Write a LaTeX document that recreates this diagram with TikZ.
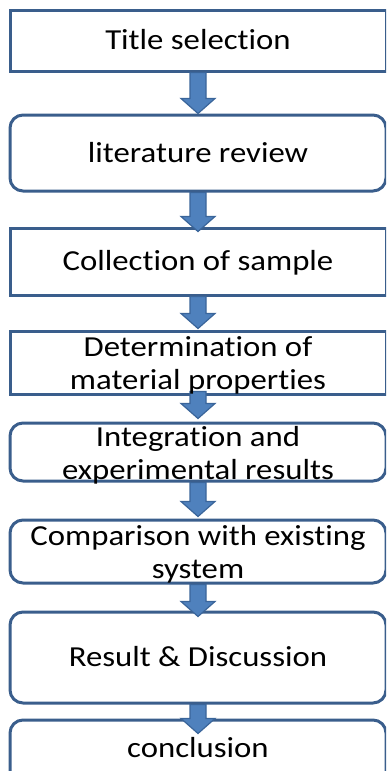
\documentclass[tikz,border=0pt]{standalone}
\usepackage{fontspec}
\setmainfont[FakeStretch=1.13,Ligatures={NoCommon}]{Carlito}
\usetikzlibrary{calc}
\definecolor{boxline}{HTML}{3A5E8C}
\definecolor{arrowfill}{HTML}{4F81BD}
\definecolor{arrowline}{HTML}{3A659A}
\begin{document}
\begin{tikzpicture}[x=1pt,y=-1pt,
        base/.style={draw=boxline,line width=3pt,minimum width=376pt,inner sep=0pt},
        plain/.style={base},
        soft/.style={base,rounded corners=13pt},
        steptext/.style={inner sep=0pt,align=center,font=\fontsize{29}{33}\selectfont},
        oneline/.style={steptext,text height=18.3pt,text depth=0pt},
        twoline/.style={steptext,yshift=-3pt},
        reach/.store in=\flowreach, reach=0,
        lift/.store in=\flowlift, lift=0,
        flow/.style={draw=arrowline,fill=arrowfill,line width=1.2pt,
            to path={($(\tikztostart)+(-8,-\flowlift)$) -- ($(\tikztotarget)+(-8,\flowreach-15)$)
                -- ($(\tikztotarget)+(-17,\flowreach-15)$) -- ($(\tikztotarget)+(0,\flowreach)$)
                -- ($(\tikztotarget)+(17,\flowreach-15)$) -- ($(\tikztotarget)+(8,\flowreach-15)$)
                -- ($(\tikztostart)+(8,-\flowlift)$) -- cycle}}]
        \useasboundingbox (0,0) rectangle (386,771);
        \clip (0,0) rectangle (386,771);
        % Boxes
        \node[plain,minimum height=61pt] (b1) at (198,40.5) {};
        \node[soft,minimum height=76pt] (b2) at (198,153) {};
        \node[plain,minimum height=67pt] (b3) at (198,261.5) {};
        \node[plain,minimum height=63pt] (b4) at (198,362.5) {};
        \node[soft,minimum height=58pt] (b5) at (198,452) {};
        \node[soft,minimum height=63pt] (b6) at (198,551.5) {};
        \node[soft,minimum height=91pt] (b7) at (198,657.5) {};
        \node[soft,minimum height=70pt] (b8) at (198,755) {};
        % Arrows
        \draw[flow] (b1.south) to (b2.north);
        \draw[flow,reach=5] (b2.south) to (b3.north);
        \draw[flow,reach=-1] (b3.south) to (b4.north);
        \draw[flow,lift=4,reach=-3] (b4.south) to (b5.north);
        \draw[flow,reach=-2] (b5.south) to (b6.north);
        \draw[flow,reach=6] (b6.south) to (b7.north);
        \draw[flow,reach=15] (b7.south) to (b8.north);
        % Texts
        \node[oneline] (t1) at (b1) {Title selection};
        \node[oneline] (t2) at (b2) {literature review};
        \node[oneline] (t3) at (b3) {Collection of sample};
        \node[twoline] (t4) at (b4) {Determination of\\material properties};
        \node[twoline] (t5) at (b5) {Integration and\\experimental results};
        \node[twoline] (t6) at (b6) {Comparison with existing\\system};
        \node[oneline] (t7) at (b7) {Result \& Discussion};
        \node[oneline] (t8) at (198,748) {conclusion};
\end{tikzpicture}
\end{document}
